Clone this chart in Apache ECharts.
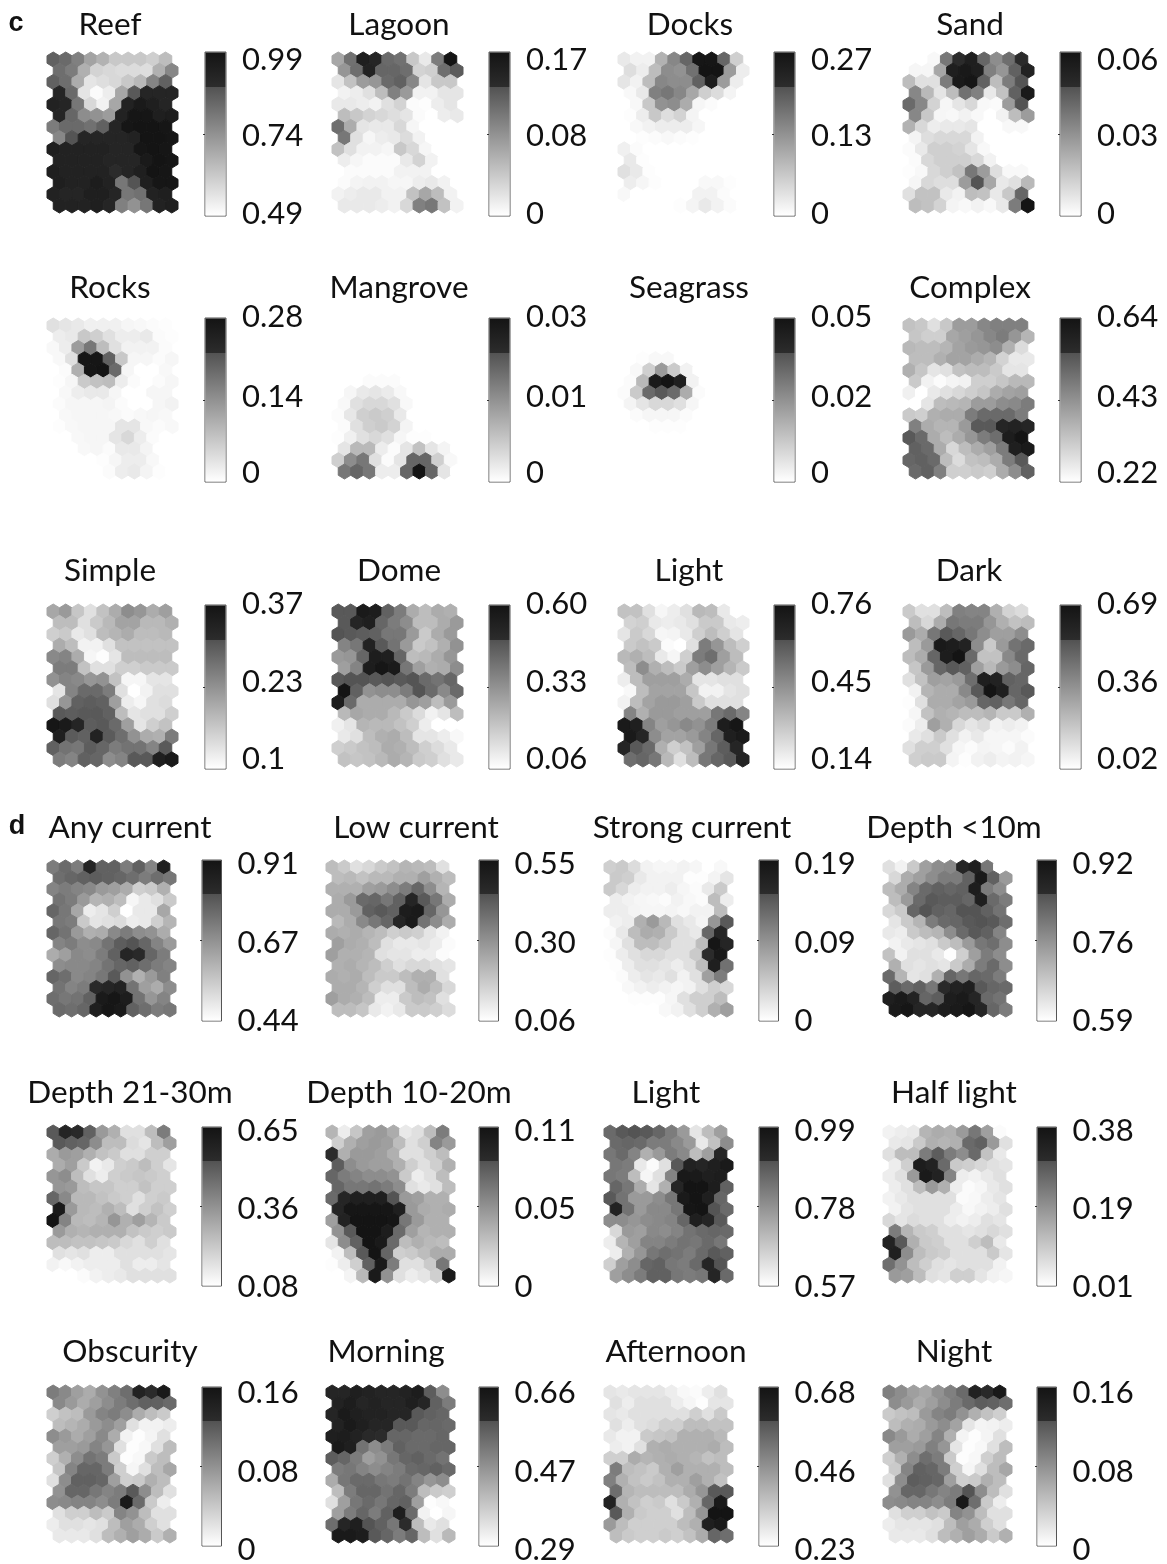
<!DOCTYPE html>
<html><head><meta charset="utf-8">
<style>html,body{margin:0;padding:0;background:#fff}#c{width:1167px;height:1564px}</style>
<script src="https://cdn.jsdelivr.net/npm/echarts@6/dist/echarts.min.js"></script>
</head><body><div id="c"></div>
<script>
// Panel titles and colour-bar tick labels [max, mid, min]
const titles=['Reef','Lagoon','Docks','Sand','Rocks','Mangrove','Seagrass','Complex','Simple','Dome','Light','Dark','Any current','Low current','Strong current','Depth <10m','Depth 21-30m','Depth 10-20m','Light','Half light','Obscurity','Morning','Afternoon','Night'];
const tickLabels=[['0.99','0.74','0.49'],['0.17','0.08','0'],['0.27','0.13','0'],['0.06','0.03','0'],['0.28','0.14','0'],['0.03','0.01','0'],['0.05','0.02','0'],['0.64','0.43','0.22'],['0.37','0.23','0.1'],['0.60','0.33','0.06'],['0.76','0.45','0.14'],['0.69','0.36','0.02'],['0.91','0.67','0.44'],['0.55','0.30','0.06'],['0.19','0.09','0'],['0.92','0.76','0.59'],['0.65','0.36','0.08'],['0.11','0.05','0'],['0.99','0.78','0.57'],['0.38','0.19','0.01'],['0.16','0.08','0'],['0.66','0.47','0.29'],['0.68','0.46','0.23'],['0.16','0.08','0']];
// Each map: 14 rows of 10 hexagons, read as position on its colour bar (0 = bottom, 100 = top)
const reef=[72,68,58,42,35,25,25,25,22,30, 66,60,36,20,18,16,16,15,36,55, 72,66,38,12,15,18,25,32,56,72, 85,68,12,2,8,40,76,85,85,85, 88,85,62,18,6,40,88,95,90,85, 85,70,52,50,45,88,98,98,90,92, 60,68,68,65,72,85,98,100,100,98, 55,78,85,85,85,85,88,100,100,98, 90,88,88,88,88,85,85,98,100,98, 88,88,88,88,85,85,85,95,100,98, 90,88,88,88,88,80,85,90,100,98, 90,88,88,92,88,62,78,90,98,98, 88,85,85,90,90,85,62,65,88,90, 88,88,88,90,85,58,50,62,88,90];
const lagoon=[40,65,90,85,68,65,25,10,60,100, 48,66,88,70,70,66,20,22,66,75, 12,28,45,48,68,72,55,12,25,25, 6,8,14,30,58,46,6,6,12,12, 10,10,8,6,14,20,2,1,8,12, 30,25,20,18,15,12,2,0,8,10, 66,38,12,10,10,18,4,0,0,0, 62,14,4,8,10,16,6,0,0,0, 28,14,6,6,4,25,18,4,0,0, 8,4,2,2,2,10,20,6,0,0, 0,2,2,2,2,6,6,6,0,0, 2,5,6,6,4,4,8,10,6,0, 6,8,10,10,6,6,28,40,30,6, 10,10,10,8,6,18,58,62,28,6];
const docks=[10,6,6,35,55,70,98,98,70,22, 15,8,30,52,50,65,100,100,45,8, 12,6,30,55,52,52,72,92,45,8, 3,10,58,62,55,40,22,16,5,0, 0,3,25,50,52,38,4,2,0,0, 1,8,25,15,20,5,0,0,0,0, 0,3,6,8,8,8,4,0,0,0, 0,1,2,3,2,1,0,0,0,0, 7,2,0,0,0,0,0,0,0,0, 10,1,0,0,0,0,0,0,0,0, 14,10,1,0,0,0,0,0,0,0, 8,4,1,0,0,0,3,3,1,0, 3,0,0,0,0,0,6,6,2,0, 0,0,0,0,1,5,10,6,2,0];
const sand=[0,0,3,62,80,90,70,52,66,80, 4,4,40,90,96,90,58,48,72,88, 30,14,14,60,95,98,72,30,60,78, 55,32,12,30,65,58,10,28,72,95, 68,55,20,4,12,18,3,2,45,78, 55,25,4,3,6,3,0,6,30,45, 35,18,8,10,10,12,0,0,3,3, 5,15,18,18,18,6,0,0,0,0, 2,10,22,22,20,12,3,0,0,0, 2,18,22,22,22,18,6,0,0,0, 1,3,18,22,28,62,45,15,3,3, 4,18,15,15,45,78,40,10,14,32, 14,28,28,10,6,30,28,10,25,70, 30,28,20,5,3,6,3,10,60,100];
const rocks=[14,12,10,7,7,7,4,3,2,1, 8,10,25,22,14,8,8,10,2,1, 3,8,45,62,30,14,6,6,6,2, 3,14,98,98,72,25,4,4,2,4, 0,2,36,98,100,68,4,0,0,3, 1,4,24,28,30,8,2,0,2,4, 0,3,8,10,10,4,0,0,4,4, 2,4,4,4,5,2,0,0,4,6, 0,3,4,4,4,3,2,3,4,3, 1,3,4,4,4,12,12,3,2,3, 0,0,3,4,4,12,18,8,2,0, 0,0,3,4,2,10,10,5,0,0, 0,0,0,0,1,4,8,8,3,0, 0,0,0,0,2,8,10,5,1,0];
const mangrove=[0,0,0,0,0,0,0,0,0,0, 0,0,0,0,0,0,0,0,0,0, 0,0,0,0,0,0,0,0,0,0, 0,0,0,0,0,0,0,0,0,0, 0,0,0,0,0,0,0,0,0,0, 0,0,2,2,2,0,0,0,0,0, 0,4,10,12,9,3,0,0,0,0, 3,14,18,18,14,3,0,0,0,0, 2,11,22,24,22,10,0,0,0,0, 2,14,22,24,20,5,0,0,0,0, 1,7,14,18,14,4,1,1,0,0, 12,32,32,8,2,12,28,12,5,0, 22,52,62,14,2,12,70,70,22,3, 62,70,62,8,8,70,100,70,12,0];
const seagrass=[0,0,0,0,0,0,0,0,0,0, 0,0,0,0,0,0,0,0,0,0, 0,0,0,0,0,0,0,0,0,0, 0,1,3,3,0,0,0,0,0,0, 0,3,22,46,24,6,0,0,0,0, 2,32,95,100,90,6,0,0,0,0, 2,24,68,76,68,38,2,0,0,0, 5,12,18,18,14,4,0,0,0,0, 0,2,4,4,4,2,0,0,0,0, 0,0,1,1,1,0,0,0,0,0, 0,0,0,0,0,0,0,0,0,0, 0,0,0,0,0,0,0,0,0,0, 0,0,0,0,0,0,0,0,0,0, 0,0,0,0,0,0,0,0,0,0];
const complexMap=[28,25,14,25,45,45,55,58,58,58, 26,22,22,40,44,48,55,60,48,34, 32,30,30,34,42,46,48,52,36,16, 30,30,36,42,42,38,34,20,10,10, 36,26,12,14,28,30,30,24,12,12, 24,6,2,5,6,22,22,26,32,32, 7,0,10,14,18,22,26,38,42,44, 0,12,30,32,34,45,45,52,54,60, 24,22,36,38,38,60,68,68,68,60, 58,38,34,34,46,76,76,85,88,85, 76,68,38,30,38,48,60,66,92,100, 72,68,38,18,30,38,44,60,90,95, 70,72,68,30,16,28,30,38,60,76, 68,72,58,22,22,24,22,38,52,72];
const simple=[40,46,26,14,28,38,52,48,38,44, 30,30,14,24,32,42,42,32,32,36, 22,24,10,14,30,34,38,30,30,32, 38,30,6,6,14,28,28,28,28,28, 54,56,38,4,1,12,30,30,30,30, 60,60,28,14,14,22,22,24,24,24, 50,56,54,48,50,28,4,4,12,12, 12,56,68,68,60,14,0,6,14,14, 14,48,72,74,72,44,8,4,14,16, 76,74,76,76,72,30,12,14,14,22, 98,95,85,74,76,68,44,12,22,28, 90,75,72,88,75,66,50,38,36,60, 72,64,62,74,70,60,64,64,56,76, 60,56,72,70,52,56,76,76,90,95];
const dome=[76,76,95,92,72,60,38,30,38,36, 76,85,90,70,60,52,30,30,38,46, 78,76,74,72,62,62,46,24,38,46, 56,62,88,76,64,46,24,28,36,50, 46,48,70,92,90,70,30,32,38,48, 44,56,92,98,95,62,44,36,38,52, 76,78,78,76,78,76,78,68,64,70, 100,72,50,52,52,60,78,68,54,68, 92,68,38,38,38,38,48,44,30,46, 32,40,38,38,32,24,16,6,12,30, 7,12,34,32,32,28,22,8,0,0, 10,14,30,36,38,30,12,12,8,3, 22,24,28,30,38,36,30,22,16,10, 28,26,28,32,38,34,24,22,14,10];
const lightC=[28,28,14,4,8,14,32,30,10,0, 20,22,10,8,10,14,24,24,10,8, 12,24,18,4,5,10,22,30,22,12, 24,28,24,2,0,14,60,48,30,22, 32,36,30,10,4,22,60,66,44,30, 30,52,36,30,24,44,52,44,34,24, 8,30,44,44,44,38,12,12,14,14, 3,30,42,42,42,26,6,6,12,14, 6,30,42,46,46,44,24,14,14,14, 56,36,46,46,44,44,44,62,68,56, 95,90,56,44,48,54,50,60,92,98, 95,85,52,42,42,46,56,70,90,95, 85,76,68,36,22,28,44,62,74,85, 66,70,62,32,14,30,62,70,76,86];
const dark=[24,14,14,30,58,56,56,36,20,16, 30,18,38,62,60,60,48,36,28,30, 46,38,62,76,70,62,52,44,44,52, 30,46,95,92,88,52,24,46,64,68, 30,38,70,92,100,68,28,28,54,68, 26,46,70,76,72,44,32,46,52,70, 14,28,44,42,46,66,90,88,72,70, 6,34,38,38,54,76,100,90,70,76, 1,14,38,38,42,46,70,72,62,70, 4,28,36,34,30,30,34,24,24,36, 2,8,44,36,18,12,16,6,8,6, 10,14,24,14,6,10,4,4,4,2, 14,22,22,14,4,2,5,4,2,6, 22,24,24,5,1,6,8,5,6,4];
const anyCurrent=[60,68,60,85,72,72,60,72,56,90, 66,70,72,74,72,70,66,60,66,62, 56,60,56,54,46,44,38,22,24,36, 64,60,46,34,36,30,4,10,14,24, 70,62,40,8,12,22,0,10,10,40, 62,60,24,12,14,16,8,10,22,34, 70,64,46,36,38,54,60,52,50,38, 56,60,52,54,64,74,78,70,56,46, 38,44,54,52,60,72,85,82,70,60, 52,54,54,56,64,70,72,66,60,56, 70,66,54,56,62,76,50,36,46,58, 64,56,60,82,85,88,64,44,38,52, 66,62,64,72,95,98,92,64,48,56, 68,66,70,90,98,95,72,66,60,62];
const lowCurrent=[30,24,14,18,24,28,34,32,30,14, 30,32,28,32,32,36,36,44,36,30, 36,36,36,44,46,52,60,70,52,34, 38,46,68,70,62,72,85,76,62,38, 38,38,46,72,76,72,92,95,70,48, 32,38,54,62,70,85,95,64,52,38, 38,36,38,34,30,22,24,22,12,6, 44,38,36,30,14,10,10,12,8,2, 44,36,36,34,14,12,12,8,8,2, 36,38,34,30,22,14,18,18,14,12, 38,36,38,30,24,24,30,36,36,14, 38,38,34,22,14,14,30,38,30,18, 44,38,36,30,8,8,24,30,28,14, 30,30,26,10,6,10,24,24,22,16];
const strongCurrent=[22,24,16,6,4,4,6,4,0,3, 24,22,10,6,6,6,1,1,5,12, 24,18,8,6,6,8,4,2,10,24, 8,6,4,3,2,6,3,2,30,8, 8,8,5,4,4,5,3,6,6,30, 6,8,36,46,32,14,10,5,48,76, 2,10,30,38,36,24,14,10,70,85, 4,14,30,30,24,14,14,30,98,85, 1,8,14,18,18,14,14,24,80,96, 1,8,14,14,12,8,14,30,90,65, 0,2,8,12,10,14,6,14,44,60, 0,3,6,8,6,4,6,14,22,18, 0,0,1,1,1,4,14,22,22,30, 0,0,0,0,3,6,14,22,36,44];
const depth10=[14,6,24,44,52,54,85,90,62,0, 18,38,44,52,60,60,72,95,72,46, 30,38,56,68,72,70,72,92,60,52, 30,46,68,76,74,74,70,90,68,60, 18,24,70,78,72,70,78,78,72,64, 12,24,34,60,68,70,76,78,76,66, 10,8,24,30,34,52,68,76,72,56, 6,10,12,14,24,30,46,62,66,52, 28,6,14,14,10,1,22,44,60,52, 36,14,12,14,12,24,38,60,68,52, 68,34,12,14,36,70,62,70,68,60, 74,68,72,62,82,88,90,76,70,68, 90,95,88,70,74,92,95,85,68,64, 95,98,85,85,92,95,98,85,70,60];
const depth21=[76,85,82,72,46,36,14,14,30,60, 76,72,70,52,30,30,16,12,30,44, 38,46,44,36,28,24,14,14,22,22, 38,44,24,6,10,22,24,30,22,12, 48,52,30,14,8,22,24,26,24,22, 48,46,30,26,26,22,22,28,22,22, 70,54,32,32,28,24,22,14,22,24, 95,46,32,30,36,30,14,22,28,22, 100,56,32,30,34,48,36,44,34,24, 46,36,34,36,36,36,28,24,22,24, 30,30,28,28,26,24,18,14,22,14, 14,12,14,8,8,14,14,14,14,12, 6,3,6,8,8,8,14,8,8,12, 0,0,2,6,8,10,14,14,14,14];
const depth1020=[34,8,26,44,46,38,10,14,30,60, 22,36,44,46,44,30,14,22,56,46, 80,36,46,46,44,36,14,14,22,30, 74,52,46,44,44,36,22,14,22,36, 70,60,56,52,52,50,24,8,14,30, 70,62,62,64,60,52,14,10,14,30, 68,85,90,90,90,78,46,44,36,36, 85,98,98,98,98,90,46,38,36,38, 44,88,100,100,100,98,62,46,36,36, 50,76,100,100,92,68,44,34,36,36, 12,52,72,100,95,68,30,36,32,30, 6,30,76,100,70,22,24,30,38,38, 1,8,22,72,95,60,14,14,24,62, 0,5,32,95,50,14,8,12,22,95];
const lightD=[68,76,78,76,70,60,46,12,30,44, 68,70,68,60,60,54,46,10,28,52, 62,68,56,36,46,60,54,30,44,85, 62,60,10,2,14,76,88,85,90,95, 62,60,30,4,14,56,96,95,90,92, 70,62,38,12,36,85,100,100,92,72, 76,64,46,46,52,62,95,100,90,70, 88,64,46,54,54,62,98,100,78,68, 52,52,48,52,54,56,70,90,85,76, 18,46,44,54,52,56,64,68,70,68, 8,34,44,56,56,60,64,62,68,62, 8,36,48,62,66,64,60,68,76,72, 22,44,52,70,72,62,60,68,85,78, 44,52,60,72,72,62,60,62,85,68];
const halfLight=[6,8,10,34,38,36,46,62,44,2, 10,12,24,36,34,36,68,72,46,14, 14,30,30,60,74,60,52,68,28,10, 8,22,92,88,68,24,22,18,14,12, 8,14,46,95,88,56,8,6,10,14, 8,14,30,46,36,8,2,4,10,14, 6,10,14,14,14,14,2,3,8,12, 6,12,14,14,14,8,3,6,8,14, 18,12,16,14,14,8,6,8,14,12, 60,34,24,22,14,14,12,14,18,14, 88,76,36,24,22,14,14,22,30,10, 90,52,30,24,22,14,14,14,24,12, 66,50,30,22,14,12,14,14,14,6, 46,44,30,14,12,22,22,12,6,4];
const obscurity=[60,54,44,38,50,58,66,88,80,95, 54,46,38,44,52,60,66,72,72,68, 22,28,30,46,56,60,52,38,30,24, 30,34,38,46,52,44,14,6,6,8, 52,46,38,44,54,38,6,1,5,14, 44,44,46,56,48,14,1,3,14,30, 22,36,52,64,60,24,1,3,24,30, 26,56,70,70,60,22,4,14,30,40, 14,52,72,72,70,44,22,24,36,30, 50,70,70,62,56,60,76,52,30,14, 52,54,56,56,52,60,95,68,24,8, 14,22,22,30,24,56,50,30,14,14, 8,14,14,12,14,30,44,38,22,14, 10,10,10,14,30,36,44,38,24,36];
const morning=[85,85,90,88,85,85,88,92,74,52, 88,92,85,88,85,85,90,85,72,60, 85,95,90,88,88,85,85,76,72,70, 88,95,90,85,85,76,76,70,70,68, 90,92,88,82,80,70,70,68,68,70, 95,90,64,52,60,72,68,68,70,70, 74,70,60,44,50,62,70,72,68,64, 60,62,56,52,56,60,68,70,72,68, 38,62,68,68,62,60,64,56,48,52, 30,60,70,70,64,70,60,30,24,22, 14,44,62,68,62,70,72,44,1,3, 44,60,70,60,72,92,68,6,0,4, 66,85,90,78,72,62,80,30,10,14, 95,95,92,76,70,60,70,30,14,32];
const afternoon=[12,10,12,12,12,8,3,2,8,14, 14,8,14,14,14,8,4,1,12,12, 12,10,14,14,14,14,14,22,14,24, 14,8,14,16,22,22,30,30,28,28, 10,6,6,24,26,28,36,36,36,32, 8,6,14,36,38,36,36,36,38,30, 22,22,38,34,36,38,36,34,28,30, 60,30,28,24,36,44,36,36,36,30, 58,36,28,24,28,36,36,44,36,28, 66,34,30,30,30,30,38,48,76,76, 88,36,28,22,24,14,24,36,70,95, 76,36,24,22,22,14,30,48,100,100, 46,30,22,22,22,22,30,36,90,95, 30,24,22,22,24,22,28,38,70,66];
const night=[58,52,44,40,50,58,68,88,82,96, 52,46,38,44,52,60,68,74,72,66, 24,28,30,46,56,60,50,36,28,22, 30,36,38,46,52,42,12,5,6,8, 54,46,38,44,56,36,5,1,5,14, 44,44,46,58,48,12,1,3,14,30, 22,36,52,66,60,24,1,3,22,30, 24,56,72,70,60,22,4,14,30,40, 14,52,74,72,70,44,22,24,36,30, 50,70,70,62,56,60,78,52,30,14, 52,54,56,56,52,60,96,66,24,8, 14,22,22,28,24,56,50,30,14,14, 8,12,12,12,14,30,44,38,22,14, 10,10,10,14,30,36,44,38,24,36];
const maps=[reef,lagoon,docks,sand,rocks,mangrove,seagrass,complexMap,simple,dome,lightC,dark,anyCurrent,lowCurrent,strongCurrent,depth10,depth21,depth1020,lightD,halfLight,obscurity,morning,afternoon,night];

// Layout (pixels)
const cMapLeft=[47,332,618,903], cBarLeft=[205,489,774,1060];
const dMapLeft=[47,326,604,883], dBarLeft=[202,479,759,1037];
const rowsLayout=[
 {mt:52,mh:161,bt:52,bh:164,ty:25,dy:[8,2,-2]},
 {mt:318,mh:161,bt:318,bh:164,ty:288,dy:[-1,-3,-9]},
 {mt:604,mh:163,bt:605,bh:164,ty:571,dy:[-1,-5,-10]},
 {mt:860,mh:157,bt:860,bh:161,ty:828,dy:[4,2.5,0]},
 {mt:1125,mh:158,bt:1127,bh:159,ty:1093,dy:[4,2.5,1]},
 {mt:1385,mh:158,bt:1387,bh:159,ty:1352,dy:[6,5.5,4]}];
const titleX=[110,399,690,970,110,399,689,970,110,399,689,969,130,416,692,954,130,409,666,954,130,386,676,954];
const FONT='Lato';
const COLS=10,ROWS=14,HX=COLS+0.5,HY=ROWS+1/3;
const STEP=79;

function gray(p){ // colour bar: white to mid-grey, then a step to near-black
  let g;
  if(p<=STEP) g=255-(255-82)*p/STEP;
  else g=44-24*(p-STEP)/(100-STEP);
  g=Math.round(g);
  return 'rgb('+g+','+g+','+g+')';
}
const barFill={type:'linear',x:0,y:1,x2:0,y2:0,global:false,colorStops:[
  {offset:0,color:gray(0)},{offset:STEP/100,color:gray(STEP)},
  {offset:STEP/100,color:gray(STEP+.01)},{offset:1,color:gray(100)}]};
const grids=[],xAxes=[],yAxes=[],series=[],titlesOpt=[];
function add(p){grids.push(p);return grids.length-1;}
titles.forEach((t,i)=>{
  const r=rowsLayout[Math.floor(i/4)],c=i%4,isC=i<12;
  const mapLeft=(isC?cMapLeft:dMapLeft)[c],barLeft=(isC?cBarLeft:dBarLeft)[c];
  const mapW=isC?131:129,barW=isC?21:19.5;
  // map
  let gi=add({left:mapLeft,top:r.mt,width:mapW,height:r.mh});
  xAxes.push({gridIndex:gi,type:'value',min:0,max:HX,show:false});
  yAxes.push({gridIndex:gi,type:'value',min:0,max:HY,inverse:true,show:false});
  const cells=maps[i].map((p,k)=>{const row=Math.floor(k/COLS),col=k%COLS;return [col+0.5+(row%2)*0.5,row+2/3,p];});
  series.push({type:'custom',xAxisIndex:gi,yAxisIndex:gi,silent:true,animation:false,clip:false,data:cells,
    encode:{x:0,y:1},
    renderItem(params,api){
      const x=api.value(0),y=api.value(1),p=api.value(2),col=gray(p);
      const pts=[[0,-2/3],[.5,-1/3],[.5,1/3],[0,2/3],[-.5,1/3],[-.5,-1/3]].map(o=>api.coord([x+o[0],y+o[1]]));
      return {type:'polygon',shape:{points:pts},style:{fill:col,stroke:col,lineWidth:1,lineJoin:'round'}};
    }});
  // colour bar
  const labels=tickLabels[i],hi=parseFloat(labels[0]),lo=parseFloat(labels[2]),mid=(hi+lo)/2;
  gi=add({left:barLeft,top:r.bt,width:barW,height:r.bh,show:true,borderColor:'#555',borderWidth:1,backgroundColor:'#fff'});
  xAxes.push({gridIndex:gi,type:'value',min:0,max:1,show:false});
  yAxes.push({gridIndex:gi,type:'value',min:lo,max:hi,position:'right',
    axisLine:{show:false},splitLine:{show:false},axisLabel:{show:false},
    axisTick:{show:true,inside:true,length:2,customValues:[mid],lineStyle:{color:'#333',width:1}}});
  series.push({type:'custom',xAxisIndex:gi,yAxisIndex:gi,silent:true,animation:false,data:[[lo,hi]],
    renderItem(params,api){
      const a=api.coord([0,api.value(0)]),e=api.coord([1,api.value(1)]);
      return {type:'rect',shape:{x:a[0]+.5,y:e[1]+.5,width:e[0]-a[0]-1,height:a[1]-e[1]-1},style:{fill:barFill}};
    }});
  const tv=[[hi,labels[0],r.dy[0]],[mid,labels[1],r.dy[1]],[lo,labels[2],r.dy[2]]];
  series.push({type:'custom',xAxisIndex:gi,yAxisIndex:gi,silent:true,animation:false,clip:false,data:tv.map((d,n)=>[n,d[0]]),
    renderItem(params,api){
      const n=api.value(0),d=tv[n],pt=api.coord([1,d[0]]);
      return {type:'text',style:{x:pt[0]+16,y:pt[1]+d[2],text:d[1],fontFamily:FONT,fontSize:31,fill:'#111',textAlign:'left',textVerticalAlign:'middle'}};
    }});
  titlesOpt.push({text:t,left:titleX[i],top:r.ty,textAlign:'center',textVerticalAlign:'middle',padding:0,
    textStyle:{fontFamily:FONT,fontSize:31.5,fontWeight:'normal',color:'#111'}});
});
titlesOpt.push({text:'c',left:16,top:24,textAlign:'center',textVerticalAlign:'middle',padding:0,textStyle:{fontFamily:'Liberation Sans',fontSize:27,fontWeight:'bold',color:'#111'}});
titlesOpt.push({text:'d',left:17,top:827,textAlign:'center',textVerticalAlign:'middle',padding:0,textStyle:{fontFamily:'Liberation Sans',fontSize:27,fontWeight:'bold',color:'#111'}});
const chart=echarts.init(document.getElementById('c'),null,{renderer:'canvas',width:1167,height:1564});
chart.setOption({animation:false,backgroundColor:'#fff',title:titlesOpt,grid:grids,xAxis:xAxes,yAxis:yAxes,series:series});
</script></body></html>
